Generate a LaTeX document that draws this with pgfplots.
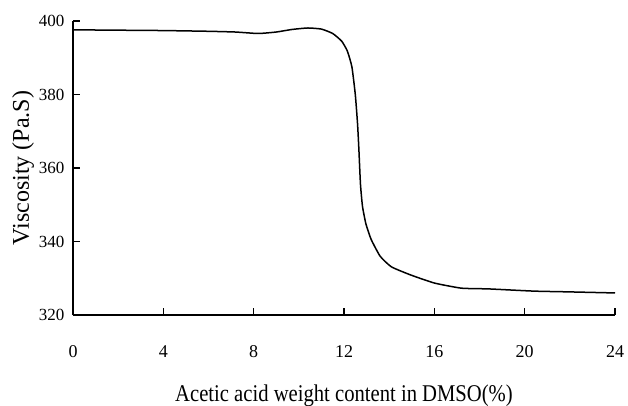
\documentclass[border=0pt]{standalone}
\usepackage{fontspec}
\setmainfont{Liberation Serif}
\usepackage{graphicx}
\usepackage{pgfplots}
\pgfplotsset{compat=1.18}

% viscosity vs acetic acid content
\pgfplotstableread{
x      y
0      397.6
2      397.5
4      397.4
6      397.2
7.2    397.0
8.2    396.6
9.0    397.0
9.7    397.7
10.4   398.1
11.0   397.8
11.5   396.6
11.9   394.5
12.15  391.8
12.35  387.5
12.5   380.0
12.6   372.0
12.66  364.9
12.73  355.5
12.82  349.5
12.97  344.8
13.2   340.6
13.6   336.0
14.1   333.1
14.95  330.9
16.0   328.7
17.2   327.3
18.4   327.1
20.4   326.5
21.9   326.3
24.0   326.0
}\visc

\begin{document}
\begin{tikzpicture}
\begin{axis}[
    name=ax,
    scale only axis,
    width=542pt, height=294pt,
    xmin=0, xmax=24, ymin=320, ymax=400,
    axis lines=left,
    axis line style={-, line width=1.7pt},
    xtick={0,4,...,24},
    ytick={320,340,...,400},
    tick align=inside,
    major tick length=7pt,
    tick style={line width=1.3pt, black},
    /pgf/number format/assume math mode=true,
    xticklabel style={font=\fontsize{18}{18}\selectfont, yshift=-27pt},
    yticklabel style={font=\fontsize{17}{17}\selectfont, xshift=-5pt},
    xlabel={\scalebox{0.86}[1]{Acetic acid weight content in DMSO(\%)}},
    ylabel={Viscosity (Pa.S)},
    xlabel style={font=\fontsize{24}{24}\selectfont, yshift=-20pt},
    ylabel style={font=\fontsize{24}{24}\selectfont, yshift=-2pt},
]
\addplot[black, line width=1.5pt, smooth, tension=0.3] table[x=x, y=y] {\visc};
\end{axis}
\pgfresetboundingbox
\path[use as bounding box] ([xshift=-73pt,yshift=-91pt]ax.south west) rectangle ([xshift=13pt,yshift=21pt]ax.north east);
\end{tikzpicture}
\end{document}
